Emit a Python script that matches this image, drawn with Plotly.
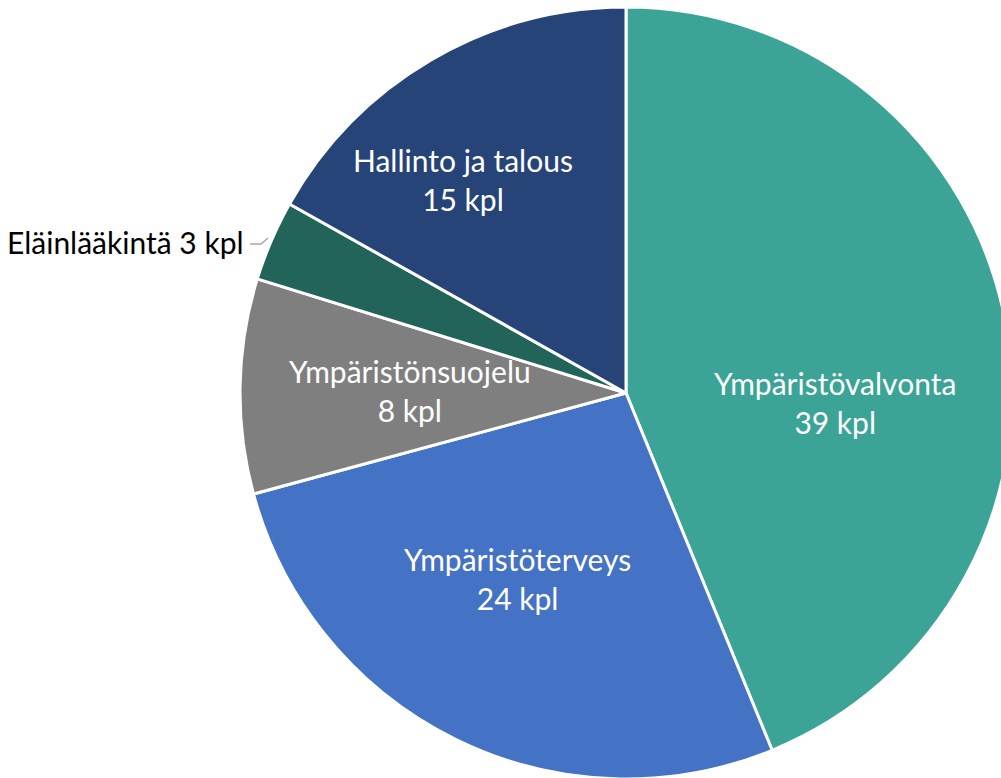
import plotly.graph_objects as go

# data
categories = ["Ympäristövalvonta", "Ympäristöterveys", "Ympäristönsuojelu",
              "Eläinlääkintä", "Hallinto ja talous"]
values = [39, 24, 8, 3, 15]
colors = ["#3BA496", "#4472C4", "#7F7F7F", "#22645A", "#264478"]

W, H = 1016, 786
FONT = "Lato"


def px(x, y):
    return x / W, 1 - y / H


fig = go.Figure(go.Pie(
    labels=categories, values=values, sort=False, direction="clockwise",
    rotation=0, marker=dict(colors=colors, line=dict(color="white", width=3)),
    textinfo="none", hoverinfo="label+value",
    domain=dict(x=[240 / W, 1012 / W], y=[1 - 779 / H, 1 - 7 / H]),
))

# label positions (px in the picture)
label_pos = {
    "Ympäristövalvonta": (835, 403),
    "Ympäristöterveys": (517, 578),
    "Ympäristönsuojelu": (410, 390),
    "Hallinto ja talous": (463, 180),
}
annotations = []
for cat, val in zip(categories, values):
    if cat in label_pos:
        x, y = px(*label_pos[cat])
        annotations.append(dict(
            x=x, y=y, xref="paper", yref="paper", showarrow=False,
            xanchor="center", yanchor="middle",
            text=f"{cat}<br>{val} kpl", align="center",
            font=dict(family=FONT, size=30, color="white"),
        ))
    else:
        x, y = px(246, 242)
        annotations.append(dict(
            x=x, y=y, xref="paper", yref="paper", showarrow=False,
            xanchor="right", yanchor="middle", text=f"{cat} {val} kpl",
            font=dict(family=FONT, size=30, color="black"),
        ))

lx0, ly0 = px(250, 244)
lx1, ly1 = px(261, 244)
lx2, ly2 = px(268, 238)

fig.update_layout(
    width=W, height=H, margin=dict(l=0, r=0, t=0, b=0),
    paper_bgcolor="white", showlegend=False,
    annotations=annotations,
    shapes=[dict(type="path", xref="paper", yref="paper",
                 path=f"M {lx0} {ly0} L {lx1} {ly1} L {lx2} {ly2}",
                 line=dict(color="#A6A6A6", width=1.5))],
)

fig.write_html("out.html", config={"displayModeBar": False},
               post_script="document.body.style.margin='0';document.body.style.overflow='hidden';")
